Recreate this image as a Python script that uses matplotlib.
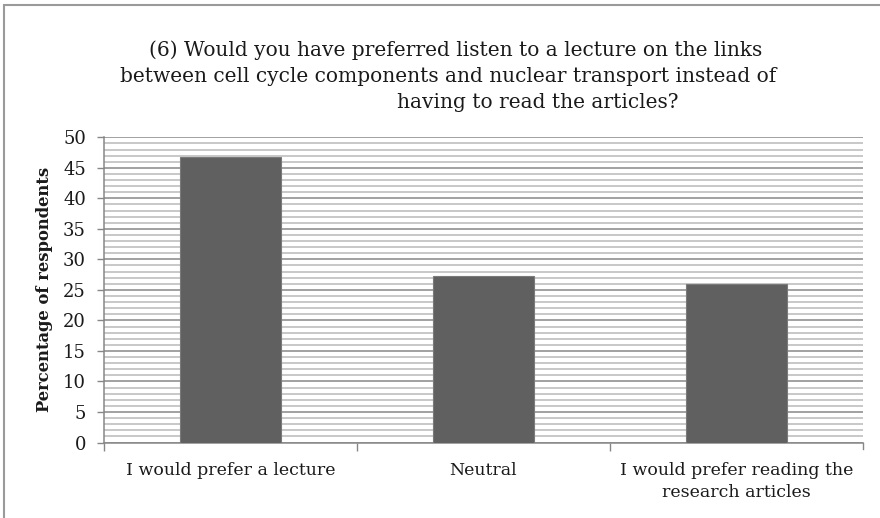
import matplotlib
matplotlib.use("Agg")
import matplotlib.pyplot as plt
from matplotlib.patches import Rectangle
from matplotlib.ticker import MultipleLocator, FixedLocator
import numpy as np

# survey answers and share of respondents (%)
categories = ["I would prefer a lecture", "Neutral",
              "I would prefer reading the\nresearch articles"]
percentages = [46.7, 27.3, 26.0]
title_lines = ["(6) Would you have preferred listen to a lecture on the links",
               "between cell cycle components and nuclear transport instead of",
               "having to read the articles?"]
y_label = "Percentage of respondents"

plt.rcParams['font.family'] = ['DejaVu Serif']
TEXT = '#1a1a1a'
MAJOR = '#878787'
MINOR = '#c4c4c4'

fig = plt.figure(figsize=(8.8, 5.18), dpi=100)
ax = fig.add_axes([104/880, 1-442.5/518, (863-104)/880, (442.5-137.3)/518])

x = np.arange(len(categories))
ax.bar(x, percentages, width=0.4, color='#606060', edgecolor='#7a7a7a',
       linewidth=0.8, zorder=3)

ax.set_xlim(-0.5, len(categories) - 0.5)
ax.set_ylim(0, 50)
ax.yaxis.set_major_locator(MultipleLocator(5))
ax.yaxis.set_minor_locator(MultipleLocator(1))
ax.grid(which='major', axis='y', color=MAJOR, linewidth=1.1, zorder=1)
ax.grid(which='minor', axis='y', color=MINOR, linewidth=1.3, zorder=0)
ax.tick_params(axis='y', which='minor', length=0)
ax.tick_params(axis='y', which='major', length=5, width=1, color=MAJOR,
               labelsize=13, labelcolor=TEXT, pad=8)

# category labels sit between boundary ticks
ax.xaxis.set_major_locator(FixedLocator(x - 0.5))
ax.xaxis.set_major_formatter(plt.NullFormatter())
ax.xaxis.set_minor_locator(FixedLocator(x))
ax.set_xticklabels(categories, minor=True)
ax.tick_params(axis='x', which='major', length=6, width=1, color=MAJOR)
ax.tick_params(axis='x', which='minor', length=0, labelsize=12.5,
               labelcolor=TEXT, pad=14)
for lab in ax.get_xticklabels(minor=True):
    lab.set_multialignment('center')
    lab.set_linespacing(1.4)
ax.plot([1, 1], [0, -0.02], transform=ax.transAxes, color=MAJOR, lw=1,
        clip_on=False)

for side in ['top', 'right']:
    ax.spines[side].set_visible(False)
for side in ['left', 'bottom']:
    ax.spines[side].set_color(MAJOR)
    ax.spines[side].set_linewidth(1.1)

ax.set_ylabel(y_label, fontsize=11.8, fontweight='bold', color=TEXT)
ax.yaxis.set_label_coords(-51/759, 0.5)

# three-line title
title_x = [456, 448, 538]
title_y = [50, 76, 102]
for line, tx, ty in zip(title_lines, title_x, title_y):
    fig.text(tx/880, 1-ty/518, line, ha='center', va='center',
             fontsize=14.5, color=TEXT)

# chart frame
fig.patches.append(Rectangle((4/880, -0.2), 1.2, 1-5/518+0.2,
                             transform=fig.transFigure, fill=False,
                             edgecolor='#9a9a9a', linewidth=1.5))

fig.savefig('out.png', dpi=100)
